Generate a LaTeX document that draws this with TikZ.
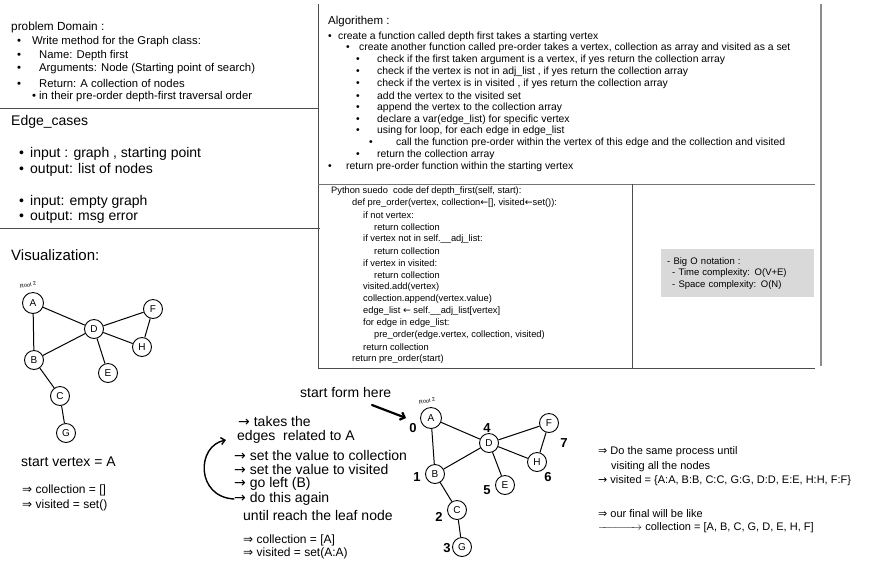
\documentclass[tikz,border=0pt]{standalone}
\usepackage{fontspec}
\setmainfont{Liberation Sans}
\newfontfamily\symf{DejaVu Sans}
\usetikzlibrary{arrows.meta,positioning}
\newcommand{\bitem}[1]{\makebox[#1][l]{\textbullet}}

\begin{document}
\begin{tikzpicture}[x=1pt,y=-1pt,
  txt/.style={anchor=west,inner sep=0pt,font=\fontsize{11.3}{14}\selectfont},
  head/.style={txt,font=\fontsize{14}{16}\selectfont},
  big/.style={txt,font=\fontsize{14}{16}\selectfont},
  algo/.style={txt,font=\fontsize{10.4}{12}\selectfont},
  code/.style={txt,font=\fontsize{9.3}{11}\selectfont},
  small/.style={txt,font=\fontsize{11}{13}\selectfont},
  frame/.style={draw=black!70,line width=0.8pt},
  vx/.style={circle,draw,line width=0.9pt,minimum size=19pt,inner sep=0pt,font=\fontsize{10}{10}\selectfont},
  link/.style={line width=1pt},
  rootlbl/.style={inner sep=0pt,font=\fontsize{5.5}{5.5}\selectfont,rotate=12},
  ordnum/.style={inner sep=0pt,font=\bfseries\fontsize{13}{13}\selectfont},
  hand/.style={line width=1.4pt,line cap=round}]

\useasboundingbox (0,0) rectangle (877,574);

% frame lines
\draw[frame] (318,4) -- (318,368);
\draw[frame] (0,108) -- (318,108);
\draw[frame] (0,228) -- (320,228);
\draw[draw=black!45,line width=1.8pt] (821,4) -- (821,366);
\draw[frame,draw=black!55] (318,184) -- (815,184);
\draw[frame] (632,184) -- (632,368);
\draw[frame] (318,368) -- (815,368);

% problem domain
\node[txt,font=\fontsize{11.8}{14}\selectfont] (pd0) at (11,27) {problem Domain :};
\node[txt] (pd1) at (17,42) {\bitem{15pt}Write method for the Graph class:};
\node[txt] (pd2) at (17,56) {\bitem{22pt}Name: Depth first};
\node[txt] (pd3) at (17,69) {\bitem{22pt}Arguments: Node (Starting point of search)};
\node[txt] (pd4) at (17,83) {\bitem{22pt}Return: A collection of nodes};
\node[txt] (pd5) at (32,97) {\bitem{7pt}in their pre-order depth-first traversal order};

% edge cases
\node[head] (ec0) at (11,122) {Edge\_cases};
\node[big] (ec1) at (19,154) {\bitem{11pt}input : graph , starting point};
\node[big] (ec2) at (19,170) {\bitem{11pt}output: list of nodes};
\node[big] (ec3) at (19,202) {\bitem{11pt}input: empty graph};
\node[big] (ec4) at (19,217) {\bitem{11pt}output: msg error};
\node[head,font=\fontsize{15}{17}\selectfont] (vis) at (11,255) {Visualization:};

% algorithm
\node[txt,font=\fontsize{11.5}{13}\selectfont] (al0) at (328,22) {Algorithem :};
\node[algo] (al1) at (328,37) {\bitem{10pt}create a function called depth first takes a starting vertex};
\node[algo] (al2) at (346,48) {\bitem{13pt}create another function called pre-order takes a vertex, collection as array and visited as a set};
\node[algo] (al3) at (356,60) {\bitem{21pt}check if the first taken argument is a vertex, if yes return the collection array};
\node[algo] (al4) at (356,72) {\bitem{21pt}check if the vertex is not in adj\_list , if yes return the collection array};
\node[algo] (al5) at (356,84) {\bitem{21pt}check if the vertex is in visited , if yes return the collection array};
\node[algo] (al6) at (356,96) {\bitem{21pt}add the vertex to the visited set};
\node[algo] (al7) at (356,108) {\bitem{21pt}append the vertex to the collection array};
\node[algo] (al8) at (356,120) {\bitem{21pt}declare a var(edge\_list) for specific vertex};
\node[algo] (al9) at (356,131) {\bitem{21pt}using for loop, for each edge in edge\_list};
\node[algo] (al10) at (369,143) {\bitem{27pt}call the function pre-order within the vertex of this edge and the collection and visited};
\node[algo] (al11) at (356,155) {\bitem{21pt}return the collection array};
\node[algo] (al12) at (328,167) {\bitem{18pt}return pre-order function within the starting vertex};

% python code
\node[code] (py0) at (331,191) {Python suedo\ \ code def depth\_first(self, start):};
\node[code] (py1) at (352,203) {def pre\_order(vertex, collection{\symf ←}[], visited{\symf ←}set()):};
\node[code] (py2) at (363,215) {if not vertex:};
\node[code] (py3) at (374,227) {return collection};
\node[code] (py4) at (363,239) {if vertex not in self.\_\_adj\_list:};
\node[code] (py5) at (374,251) {return collection};
\node[code] (py6) at (363,263) {if vertex in visited:};
\node[code] (py7) at (374,275) {return collection};
\node[code] (py8) at (363,287) {visited.add(vertex)};
\node[code] (py9) at (363,299) {collection.append(vertex.value)};
\node[code] (py10) at (363,311) {edge\_list {\symf ←} self.\_\_adj\_list[vertex]};
\node[code] (py11) at (363,323) {for edge in edge\_list:};
\node[code] (py12) at (374,335) {pre\_order(edge.vertex, collection, visited)};
\node[code] (py13) at (363,347) {return collection};
\node[code] (py14) at (352,359) {return pre\_order(start)};

% big O
\node[fill=black!15,anchor=north west,text width=141pt,minimum height=48pt,inner xsep=6pt,inner ysep=0pt,align=left,font=\fontsize{9.5}{11.5}\selectfont] (bigo) at (661,249)
  {- Big O notation :\\\hspace*{5pt}- Time complexity: O(V+E)\\\hspace*{5pt}- Space complexity: O(N)};

% first graph
\node[vx,minimum size=21pt] (lA) at (33,303) {A};
\node[vx] (lB) at (34,360) {B};
\node[vx] (lD) at (94,329) {D};
\node[vx] (lF) at (153,309) {F};
\node[vx] (lH) at (142,347) {H};
\node[vx] (lE) at (108,373) {E};
\node[vx] (lC) at (60,396) {C};
\node[vx] (lG) at (66,433) {G};
\node[rootlbl] (lroot) at (28,285) {Root 2};
\draw[link] (lA) -- (lD);
\draw[link] (lA) -- (lB);
\draw[link] (lB) -- (lD);
\draw[link] (lD) -- (lF);
\draw[link] (lD) -- (lH);
\draw[link] (lF) -- (lH);
\draw[link] (lD) -- (lE);
\draw[link] (lB) -- (lC);
\draw[link] (lC) -- (lG);

\node[big] (startv) at (21,462) {start vertex = A};
\node[txt,font=\fontsize{12}{14}\selectfont] (col0) at (22,490) {{\symf ⇒} collection = []};
\node[txt,font=\fontsize{12}{14}\selectfont] (vis0) at (22,505) {{\symf ⇒} visited = set()};

% steps
\node[big] (startlbl) at (300,392) {start form here};
\node[big] (takes) at (238,421) {{\symf →} takes the};
\node[big] (edges) at (237,437) {edges\ \ related to A};
\node[big] (setc) at (234,455) {{\symf →} set the value to collection};
\node[big] (setv) at (234,469) {{\symf →} set the value to visited};
\node[big] (left) at (234,484) {{\symf →} go left (B)};
\node[big] (again) at (234,499) {{\symf →} do this again};
\node[big] (until) at (243,515) {until reach the leaf node};
\node[txt,font=\fontsize{12}{14}\selectfont] (col1) at (243,540) {{\symf ⇒} collection = [A]};
\node[txt,font=\fontsize{12}{14}\selectfont] (vis1) at (243,553) {{\symf ⇒} visited = set(A:A)};
\coordinate (loopend) at (226,440);
\draw[hand,-{Straight Barb[length=4pt,width=7pt]}] (again.west) .. controls (196,497) and (196,446) .. (loopend);

% second graph
\node[vx,minimum size=21pt] (mA) at (431,418) {A};
\node[vx] (mB) at (435,474) {B};
\node[vx] (mD) at (489,443) {D};
\node[vx] (mF) at (549,423) {F};
\node[vx] (mH) at (537,462) {H};
\node[vx] (mE) at (505,485) {E};
\node[vx] (mC) at (457,510) {C};
\node[vx] (mG) at (462,547) {G};
\node[rootlbl] (mroot) at (427,401) {Root 2};
\draw[link] (mA) -- (mD);
\draw[link] (mA) -- (mB);
\draw[link] (mB) -- (mD);
\draw[link] (mD) -- (mF);
\draw[link] (mD) -- (mH);
\draw[link] (mF) -- (mH);
\draw[link] (mD) -- (mE);
\draw[link] (mB) -- (mC);
\draw[link] (mC) -- (mG);
\coordinate (ptr) at (372,405);
\draw[hand,line width=2.2pt,-{Straight Barb[length=4pt,width=8pt]}] (ptr) -- ([xshift=-14pt]mA.west);

\node[ordnum] (n0) at (413,428) {0};
\node[ordnum] (n1) at (417,477) {1};
\node[ordnum] (n2) at (439,517) {2};
\node[ordnum] (n3) at (447,548) {3};
\node[ordnum] (n4) at (487,428) {4};
\node[ordnum] (n5) at (487,490) {5};
\node[ordnum] (n6) at (548,477) {6};
\node[ordnum] (n7) at (564,443) {7};

% result
\node[small] (same) at (598,452) {{\symf ⇒} Do the same process until};
\node[small] (allnodes) at (611,467) {visiting all the nodes};
\node[small] (visall) at (598,481) {{\symf →} visited = \{A:A, B:B, C:C, G:G, D:D, E:E, H:H, F:F\}};
\node[small] (final) at (598,514) {{\symf ⇒} our final will be like};
\node[small] (colall) at (598,528) {\hbox to 44pt{\rightarrowfill} collection = [A, B, C, G, D, E, H, F]};

\end{tikzpicture}
\end{document}
